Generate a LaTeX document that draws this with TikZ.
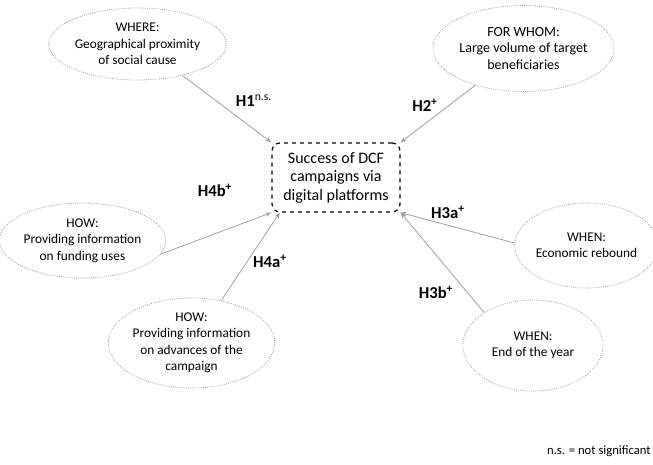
\documentclass[tikz,border=0pt]{standalone}
\usepackage{fontspec}
\setmainfont{Carlito}
\usetikzlibrary{shapes.geometric,arrows.meta}

\begin{document}
\begin{tikzpicture}[x=0.75pt,y=-0.75pt,
  cause/.style={ellipse,draw=gray!80,densely dotted,line width=0.6pt,inner sep=0pt,
    align=center,font=\fontsize{10}{12.4}\selectfont},
  outcome/.style={rectangle,rounded corners=6pt,draw=black,dashed,line width=0.9pt,
    minimum width=96pt,minimum height=51.75pt,inner sep=0pt,align=center,
    font=\fontsize{12}{13.8}\selectfont},
  link/.style={draw=gray!75,line width=0.6pt,-{Stealth[length=4.5pt,width=3.5pt]}},
  hyp/.style={font=\fontsize{12.5}{14}\selectfont\bfseries,inner sep=0pt}]
\useasboundingbox (0,0) rectangle (653,464);

\node[outcome] (dcf) at (336,177.5) {Success of DCF\\campaigns via\\digital platforms};

\node[cause,minimum width=105.75pt,minimum height=54pt] (where) at (137.5,44)
  {WHERE:\\Geographical proximity\\of social cause};
\node[cause,minimum width=114.75pt,minimum height=64.5pt,font=\fontsize{10.5}{12.6}\selectfont]
  (forwhom) at (523.5,48.5) {FOR WHOM:\\Large volume of target\\beneficiaries};
\node[cause,minimum width=111.75pt,minimum height=56.25pt] (howfund) at (82.5,240.5)
  {HOW:\\Providing information\\on funding uses};
\node[cause,minimum width=122.25pt,minimum height=67.5pt] (howadv) at (191.5,343)
  {HOW:\\Providing information\\on advances of the\\campaign};
\node[cause,minimum width=95.25pt,minimum height=63.75pt] (econ) at (586.5,245.5)
  {WHEN:\\Economic rebound};
\node[cause,minimum width=105pt,minimum height=68.25pt] (yearend) at (533,345.5)
  {WHEN:\\End of the year};

\draw[link] (where.-35) -- (dcf.north west);
\draw[link] (forwhom) -- (dcf.north east);
\draw[link] (howfund.-10) -- (dcf.south west);
\draw[link] (howadv.55) -- (dcf.-148);
\draw[link] (econ.178) -- (dcf.south east);
\draw[link] (yearend.146) -- (dcf.south east);

\node[hyp] (h1) at (254,101) {H1\textsuperscript{\mdseries n.s.}};
\node[hyp] (h2) at (425,105) {H2\textsuperscript{+}};
\node[hyp] (h4b) at (215,190) {H4b\textsuperscript{+}};
\node[hyp] (h4a) at (270,261) {H4a\textsuperscript{+}};
\node[hyp] (h3a) at (448,212) {H3a\textsuperscript{+}};
\node[hyp] (h3b) at (436,292) {H3b\textsuperscript{+}};

\node[anchor=east,inner sep=0pt,font=\fontsize{9.5}{11}\selectfont] (note) at (651,451)
  {n.s. = not significant};
\end{tikzpicture}
\end{document}
